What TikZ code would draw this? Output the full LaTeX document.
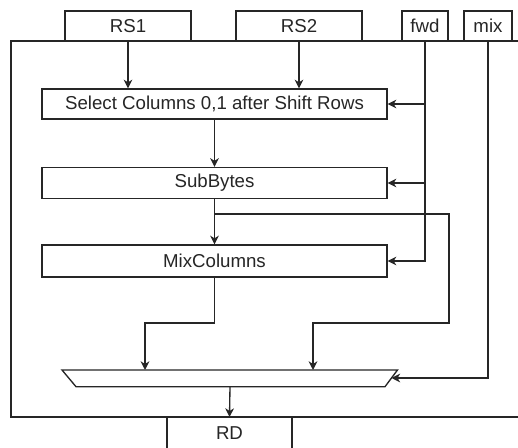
\documentclass[tikz,border=0pt]{standalone}
\usepackage{fontspec}
\setmainfont{Liberation Sans}
\usetikzlibrary{arrows.meta}
\begin{document}
\begin{tikzpicture}[x=0.75pt,y=-0.75pt,
  line width=1pt, draw=black!85,
  box/.style={draw=black!85, line width=1pt, fill=white, inner sep=0pt, font=\fontsize{14}{16}\selectfont, text=black!85},
  arr/.style={-{Stealth[length=6.5pt,width=6.5pt,inset=2pt]}, draw=black!85, line width=1pt}]
\useasboundingbox (0,0) rectangle (518,448);
\clip (0,0) rectangle (518,448);
% outer frame
\draw[black!85] (11,41) rectangle (540,417);
% top inputs
\node[box, minimum width=126*0.75pt, minimum height=30*0.75pt] (rs1) at (128,26) {RS1};
\node[box, minimum width=126*0.75pt, minimum height=30*0.75pt] (rs2) at (299,26) {RS2};
\node[box, minimum width=46*0.75pt, minimum height=30*0.75pt] (fwd) at (425,26) {fwd};
\node[box, minimum width=48*0.75pt, minimum height=30*0.75pt] (mix) at (488,26) {mix};
% stages
\node[box, minimum width=345*0.75pt, minimum height=30*0.75pt] (sel) at (214.5,104) {Select Columns 0,1 after Shift Rows};
\node[box, minimum width=345*0.75pt, minimum height=31*0.75pt] (sub) at (214.5,183) {SubBytes};
\node[box, minimum width=345*0.75pt, minimum height=32*0.75pt] (mc) at (214.5,261) {MixColumns};
% output
\node[box, minimum width=125*0.75pt, minimum height=36*0.75pt, anchor=north] (rd) at (229.5,417) {\raisebox{-4pt}{}};
\node[font=\fontsize{14}{16}\selectfont, text=black!85] (rdt) at (229.5,433) {RD};
% mux
\coordinate (mtl) at (62,370);
\coordinate (mtr) at (397.5,370);
\coordinate (mbr) at (385,386.7);
\coordinate (mbl) at (76,386.7);
\draw[fill=white] (mtl) -- (mtr) -- (mbr) -- (mbl) -- cycle;
\coordinate (muxout) at (230,386.7);
\coordinate (muxin1) at (145,370);
\coordinate (muxin2) at (313,370);
\coordinate (muxsel) at (391.5,378);
% connectors
\draw[arr] (rs1.south) -- (rs1.south |- sel.north);
\draw[arr] (rs2.south) -- (rs2.south |- sel.north);
\draw[arr] (fwd.south) |- (mc.east);
\draw[arr] (fwd.south |- sel.east) -- (sel.east);
\draw[arr] (fwd.south |- sub.east) -- (sub.east);
\draw[arr] (sel.south) -- (sub.north);
\draw[arr] (sub.south) -- (mc.north);
\coordinate (br) at (214.5,214);
\draw[arr] (br) -- (449,214) -- (449,323) -- (313,323) -- (muxin2);
\draw[arr] (mc.south) -- (214.5,323) -- (145,323) -- (muxin1);
\draw[arr] (mix.south) |- (muxsel);
\draw[arr] (muxout) -- (rd.north);
\end{tikzpicture}
\end{document}
